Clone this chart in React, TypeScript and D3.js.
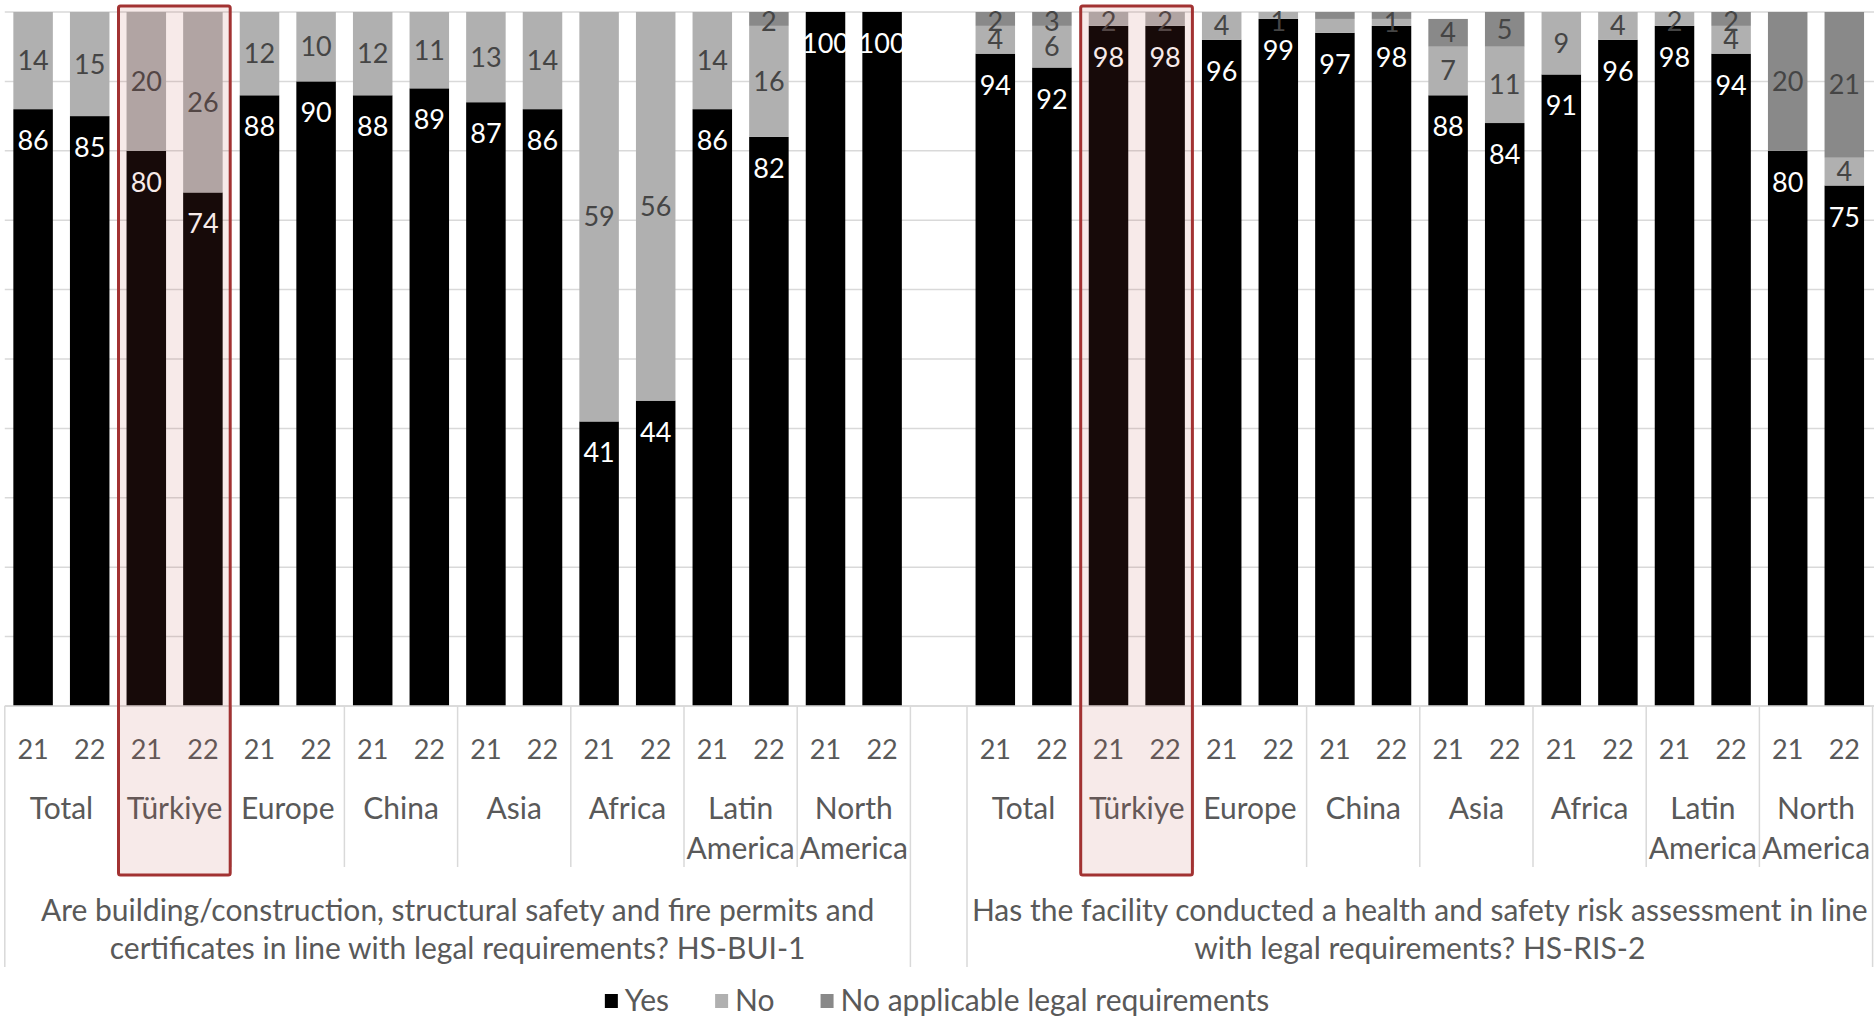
import React from "react";
import * as d3 from "d3";

// ---------------- DATA ----------------
const regions = ["Total", "Türkiye", "Europe", "China", "Asia", "Africa", "Latin America", "North America"];
const regionLines = [["Total"], ["Türkiye"], ["Europe"], ["China"], ["Asia"], ["Africa"], ["Latin", "America"], ["North", "America"]];
const years = ["21", "22"];
const highlightRegion = "Türkiye";

const questionLines = [
  ["Are building/construction, structural safety and fire permits and", "certificates in line with legal requirements? HS-BUI-1"],
  ["Has the facility conducted a health and safety risk assessment in line", "with legal requirements? HS-RIS-2"],
];

// order: Total21, Total22, Türkiye21, Türkiye22, Europe21, ... North America22
const yesQ1 = [86, 85, 80, 74, 88, 90, 88, 89, 87, 86, 41, 44, 86, 82, 100, 100];
const noQ1 = [14, 15, 20, 26, 12, 10, 12, 11, 13, 14, 59, 56, 14, 16, 0, 0];
const naQ1 = [0, 0, 0, 0, 0, 0, 0, 0, 0, 0, 0, 0, 0, 2, 0, 0];

const yesQ2 = [94, 92, 98, 98, 96, 99, 97, 98, 88, 84, 91, 96, 98, 94, 80, 75];
const noQ2 = [4, 6, 2, 2, 4, 1, 2, 1, 7, 11, 9, 4, 2, 4, 0, 4];
const naQ2 = [2, 3, 0, 0, 0, 0, 1, 1, 4, 5, 0, 0, 0, 2, 20, 21];

// labels that are not shown in the original: [question, bar index, series]
const unlabelled = [
  [1, 6, "no"],
  [1, 6, "na"],
  [1, 7, "na"],
];

const seriesKeys = ["yes", "no", "na"];
const seriesNames = ["Yes", "No", "No applicable legal requirements"];

// ---------------- STYLE ----------------
const W = 1874;
const H = 1019;
const FONT = "Lato, 'Open Sans', sans-serif";
const FS = 27; // digits
const FST = 30; // words
const colors: Record<string, string> = { yes: "#000000", no: "#b0b0b0", na: "#898989" };
const labelColors: Record<string, string> = { yes: "#ffffff", no: "#454545", na: "#454545" };
const TEXT = "#595959";
const GRID = "#d9d9d9";

type Row = { slot: string; q: number; idx: number; region: string; year: string; yes: number; no: number; na: number };

function buildRows(): { slots: string[]; rows: Row[] } {
  const slots: string[] = [];
  const rows: Row[] = [];
  const qs = [
    { yes: yesQ1, no: noQ1, na: naQ1 },
    { yes: yesQ2, no: noQ2, na: naQ2 },
  ];
  qs.forEach((q, qi) => {
    if (qi > 0) slots.push(`gap-${qi}`);
    regions.forEach((r, ri) => {
      years.forEach((y, yi) => {
        const idx = ri * 2 + yi;
        const slot = `${qi}-${r}-${y}`;
        slots.push(slot);
        rows.push({ slot, q: qi, idx, region: r, year: y, yes: q.yes[idx], no: q.no[idx], na: q.na[idx] });
      });
    });
  });
  return { slots, rows };
}

let measureCtx: CanvasRenderingContext2D | null = null;
function textWidth(t: string, size: number) {
  if (!measureCtx) measureCtx = document.createElement("canvas").getContext("2d");
  if (!measureCtx) return t.length * size * 0.5;
  measureCtx.font = `${size}px ${FONT}`;
  return measureCtx.measureText(t).width;
}

export default function App() {
  const { slots, rows } = buildRows();

  const plotTop = 12;
  const plotBottom = 706;
  const x = d3.scaleBand<string>().domain(slots).range([4.8, 1872.6]).paddingInner(0.302).paddingOuter(0.151);
  const y = d3.scaleLinear().domain([0, 100]).range([plotBottom, plotTop]);
  const step = x.step();
  const slotStart = (s: string) => (x(s) as number) - (step - x.bandwidth()) / 2;

  const stack = d3.stack<Row>().keys(seriesKeys);
  const stacked = stack(rows);

  const isHidden = (r: Row, key: string) => unlabelled.some((u) => u[0] === r.q && u[1] === r.idx && u[2] === key);

  const gridVals = d3.range(0, 101, 10);

  // group boundaries
  const regionBounds: number[] = [];
  const questionBounds: number[] = [];
  [0, 1].forEach((qi) => {
    const first = `${qi}-${regions[0]}-21`;
    const last = `${qi}-${regions[regions.length - 1]}-22`;
    questionBounds.push(slotStart(first));
    questionBounds.push(slotStart(last) + step);
    regions.forEach((r, ri) => {
      if (ri > 0) regionBounds.push(slotStart(`${qi}-${r}-21`));
    });
  });

  // legend layout
  const legendSq = 13;
  const legendGapIn = 7;
  const legendGapOut = 46;
  const widths = seriesNames.map((n) => textWidth(n, FST));
  const itemW = widths.map((w) => legendSq + legendGapIn + w);
  const totalLegend = itemW.reduce((a, b) => a + b, 0) + legendGapOut * (seriesNames.length - 1);
  let lx = W / 2 - totalLegend / 2;
  const legendItems = seriesNames.map((n, i) => {
    const item = { name: n, key: seriesKeys[i], x: lx };
    lx += itemW[i] + legendGapOut;
    return item;
  });

  return (
    <svg width={W} height={H} style={{ position: "absolute", left: 0, top: 0, display: "block", background: "#fff" }} fontFamily={FONT}>
      {/* gridlines */}
      {gridVals.map((v) => (
        <line key={v} x1={4.8} x2={W} y1={y(v)} y2={y(v)} stroke={GRID} strokeWidth={1.5} />
      ))}
      {/* bars */}
      {stacked.map((layer) =>
        layer.map((seg, i) => {
          const r = rows[i];
          const y0 = Math.min(seg[0], 100);
          const y1 = Math.min(seg[1], 100);
          if (y1 - y0 <= 0) return null;
          return (
            <rect
              key={`${layer.key}-${r.slot}`}
              x={x(r.slot)}
              width={x.bandwidth()}
              y={y(y1)}
              height={y(y0) - y(y1)}
              fill={colors[layer.key]}
            />
          );
        })
      )}
      {/* data labels */}
      {stacked.map((layer) =>
        layer.map((seg, i) => {
          const r = rows[i];
          const key = layer.key as string;
          const val = (r as any)[key] as number;
          if (!val || isHidden(r, key)) return null;
          const y0 = Math.min(seg[0], 100);
          const y1 = Math.min(seg[1], 100);
          const top = y(y1);
          const bot = y(y0);
          let base: number;
          if (key === "yes") base = top + 41;
          else base = Math.max((top + bot) / 2, 21) + 9.5;
          return (
            <text
              key={`l-${key}-${r.slot}`}
              x={(x(r.slot) as number) + x.bandwidth() / 2}
              y={base}
              textAnchor="middle"
              fontSize={FS}
              fill={labelColors[key]}
            >
              {val}
            </text>
          );
        })
      )}
      {/* axis line */}
      <line x1={4.8} x2={W} y1={plotBottom} y2={plotBottom} stroke={GRID} strokeWidth={1.5} />
      {/* region separators */}
      {regionBounds.map((bx, i) => (
        <line key={`rb-${i}`} x1={bx} x2={bx} y1={plotBottom} y2={867} stroke={GRID} strokeWidth={1.5} />
      ))}
      {questionBounds.map((bx, i) => (
        <line key={`qb-${i}`} x1={bx} x2={bx} y1={plotBottom} y2={967} stroke={GRID} strokeWidth={1.5} />
      ))}
      {/* year labels */}
      {rows.map((r) => (
        <text key={`yr-${r.slot}`} x={(x(r.slot) as number) + x.bandwidth() / 2} y={759} textAnchor="middle" fontSize={FS} fill={TEXT}>
          {r.year}
        </text>
      ))}
      {/* region labels */}
      {[0, 1].map((qi) =>
        regions.map((reg, ri) => {
          const cx = slotStart(`${qi}-${reg}-21`) + step;
          return (
            <text key={`rg-${qi}-${ri}`} x={cx} y={818} textAnchor="middle" fontSize={FST} fill={TEXT}>
              {regionLines[ri].map((ln, li) => (
                <tspan key={li} x={cx} y={819 + li * 40}>
                  {ln}
                </tspan>
              ))}
            </text>
          );
        })
      )}
      {/* question labels */}
      {[0, 1].map((qi) => {
        const cx = (questionBounds[qi * 2] + questionBounds[qi * 2 + 1]) / 2;
        return (
          <text key={`q-${qi}`} textAnchor="middle" fontSize={FST} fill={TEXT}>
            {questionLines[qi].map((ln, li) => (
              <tspan key={li} x={cx} y={921 + li * 38}>
                {ln}
              </tspan>
            ))}
          </text>
        );
      })}
      {/* highlight boxes */}
      {[0, 1].map((qi) => {
        const x0 = slotStart(`${qi}-${highlightRegion}-21`);
        const x1 = slotStart(`${qi}-${highlightRegion}-22`) + step;
        return (
          <rect
            key={`hl-${qi}`}
            x={x0 + 0.5}
            y={6}
            width={x1 - x0 - 1.5}
            height={869}
            fill="rgba(192,80,77,0.12)"
            stroke="#a23232"
            strokeWidth={3}
            rx={2}
          />
        );
      })}
      {/* legend */}
      {legendItems.map((it) => (
        <g key={it.key}>
          <rect x={it.x} y={994} width={legendSq} height={legendSq + 1} fill={colors[it.key]} />
          <text x={it.x + legendSq + legendGapIn} y={1011} fontSize={FST} fill={TEXT}>
            {it.name}
          </text>
        </g>
      ))}
    </svg>
  );
}
